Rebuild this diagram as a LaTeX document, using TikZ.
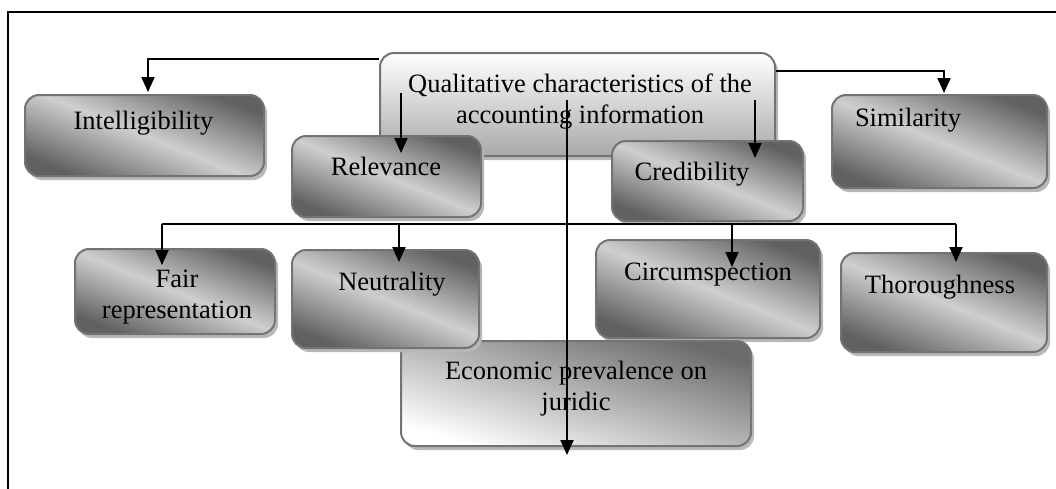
\documentclass[tikz,border=0pt]{standalone}
\usepackage{fontspec}
\setmainfont{Liberation Serif}
\usetikzlibrary{arrows.meta, shadows}

\begin{document}
\begin{tikzpicture}[x=1pt, y=-1pt,
    box/.style = {rectangle, rounded corners=14pt, draw=black!55, line width=2pt,
                  drop shadow={shadow xshift=3pt, shadow yshift=-4pt, fill=black!28, opacity=1}},
    darkbox/.style = {box, top color=black!62, bottom color=black!62, middle color=black!19, shading angle=-22},
    lightbox/.style = {box, top color=white, bottom color=black!34},
    econbox/.style = {box, top color=black!58, bottom color=white, shading angle=-17},
    txt/.style = {font=\fontsize{26.5}{30.5}\selectfont, align=center, inner sep=0pt, anchor=base},
    arr/.style = {line width=2pt, -{Triangle[width=13pt, length=15pt]}}]
  \useasboundingbox (0,0) rectangle (1056,488);
  \draw[line width=2pt] (8,490) -- (8,12) -- (1058,12);

  % boxes
  \node[lightbox, minimum width=395pt, minimum height=103pt] (qual) at (577.5,104.5) {};
  \node[txt] (qual-t) at (580,123) {Qualitative characteristics of the\\ accounting information};
  \node[darkbox, minimum width=239pt, minimum height=81pt] (intel) at (144.5,135.5) {};
  \node[txt] (intel-t) at (143.5,129) {Intelligibility};
  \node[darkbox, minimum width=189pt, minimum height=81pt] (rel) at (386.5,176.5) {};
  \node[txt] (rel-t) at (386,175) {Relevance};
  \node[darkbox, minimum width=191pt, minimum height=80pt] (cred) at (707.5,181) {};
  \node[txt] (cred-t) at (692,180) {Credibility};
  \node[darkbox, minimum width=215pt, minimum height=93pt] (simil) at (939.5,141.5) {};
  \node[txt] (simil-t) at (908,126) {Similarity};
  \node[darkbox, minimum width=200pt, minimum height=85pt] (fair) at (175,291.5) {};
  \node[txt] (fair-t) at (177,318) {Fair\\ representation};
  \node[darkbox, minimum width=224pt, minimum height=98pt] (circ) at (708,289) {};
  \node[txt] (circ-t) at (708,280) {Circumspection};
  \node[darkbox, minimum width=206pt, minimum height=99pt] (thor) at (944,302.5) {};
  \node[txt] (thor-t) at (940,293) {Thoroughness};
  \node[econbox, minimum width=350pt, minimum height=105pt] (econ) at (576,393.5) {};
  \node[txt] (econ-t) at (576,410) {Economic prevalence on\\ juridic};
  \node[darkbox, minimum width=187pt, minimum height=98pt] (neut) at (385.5,299) {};
  \node[txt] (neut-t) at (392,290) {Neutrality};

  % connector ends
  \coordinate (intel-in) at (148,92);
  \coordinate (simil-in) at (944,93);
  \coordinate (rel-from) at (401,93);
  \coordinate (rel-in)   at (401,153);
  \coordinate (cred-from) at (755,100);
  \coordinate (cred-in)   at (755,158);
  \coordinate (econ-from) at (567,100);
  \coordinate (econ-in)   at (567,455);
  \coordinate (bus-l) at (162,224);
  \coordinate (bus-r) at (956,224);
  \coordinate (fair-in) at (162,265);
  \coordinate (neut-in) at (399,262);
  \coordinate (circ-in) at (732,267);
  \coordinate (thor-in) at (956,262);

  % connectors
  \draw[arr] ([yshift=-7pt]qual.north west) -| (intel-in);
  \draw[arr] ([yshift=-19pt]qual.north east) -| (simil-in);
  \draw[arr] (rel-from) -- (rel-in);
  \draw[arr] (cred-from) -- (cred-in);
  \draw[arr] (econ-from) -- (econ-in);
  \draw[line width=2pt] (bus-l) -- (bus-r);
  \foreach \t in {fair-in, neut-in, circ-in, thor-in}
    \draw[arr] (\t |- bus-l) -- (\t);
\end{tikzpicture}
\end{document}
